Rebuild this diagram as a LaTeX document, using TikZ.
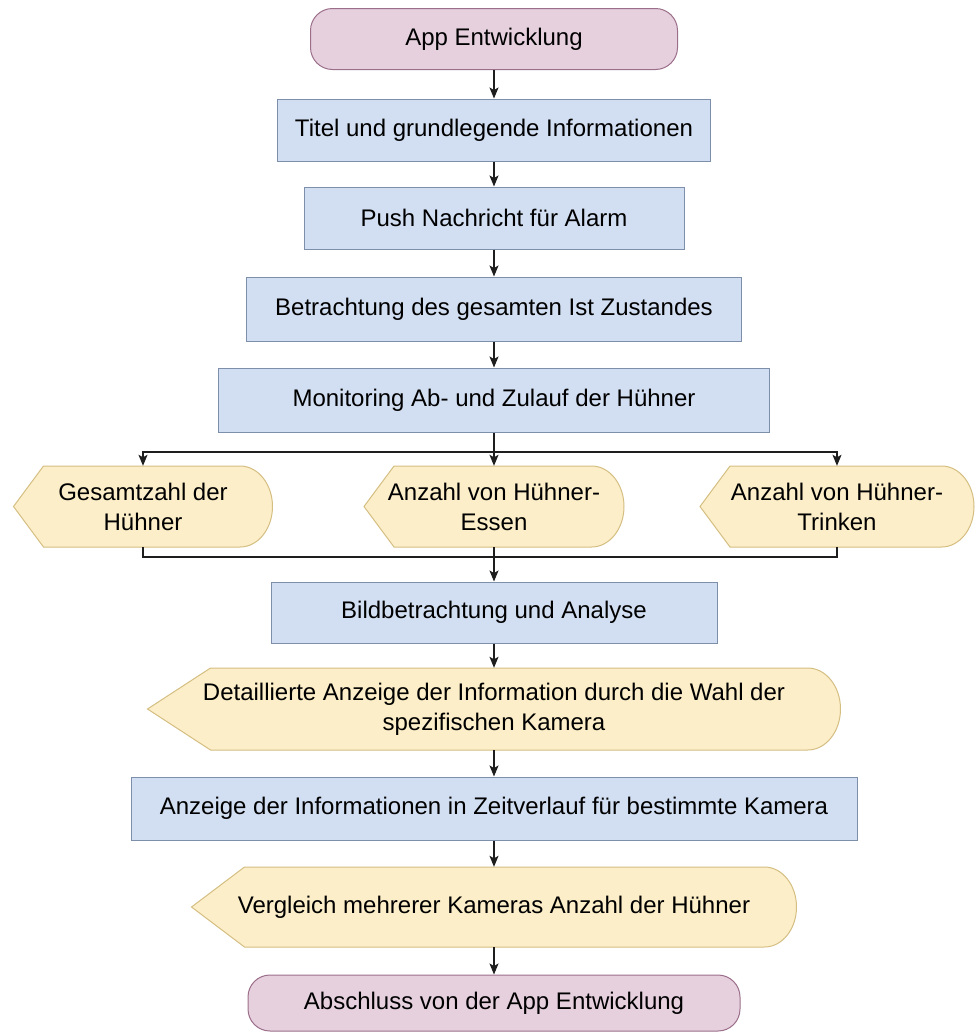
\documentclass[tikz,border=0pt]{standalone}
\usepackage{fontspec}
\setmainfont{Liberation Sans}
\usetikzlibrary{arrows.meta}

\definecolor{procfill}{RGB}{210,223,242}
\definecolor{procdraw}{RGB}{125,143,170}
\definecolor{dispfill}{RGB}{252,238,200}
\definecolor{dispdraw}{RGB}{212,190,130}
\definecolor{termfill}{RGB}{230,208,222}
\definecolor{termdraw}{RGB}{155,110,138}
\definecolor{linecol}{RGB}{30,30,30}

\tikzset{
  base/.style={font=\fontsize{24}{30}\selectfont, text=black, align=center, inner sep=0pt},
  proc/.style={base, rectangle, fill=procfill, draw=procdraw, line width=1pt},
  term/.style={base, rectangle, rounded corners=22pt, fill=termfill, draw=termdraw, line width=1pt},
  dispshape/.style={fill=dispfill, draw=dispdraw, line width=1pt},
  disptext/.style={base, rectangle},
  arr/.style={draw=linecol, line width=1.2pt, -{Stealth[length=11pt,width=9pt,inset=2.5pt]}},
  link/.style={draw=linecol, line width=1.2pt},
}

% display symbol: pointed left end, rounded right end
% #1 name, #2 centre x, #3 centre y (downwards), #4 width, #5 height, #6 slant, #7 text
\newcommand\displaynode[7]{%
  \draw[dispshape] ({#2-#4/2},{-#3}) -- ++(#6,{#5/2})
    -- ({#2+#4/2-#5*0.4},{-#3+#5/2})
    arc[start angle=90,end angle=-90,x radius={#5*0.4},y radius={#5/2}]
    -- ({#2-#4/2+#6},{-#3-#5/2}) -- cycle;
  \node[disptext, minimum width=#4pt, minimum height=#5pt] (#1) at (#2,-#3) {#7};
}

\begin{document}
\begin{tikzpicture}[x=1pt,y=1pt]
\useasboundingbox (0,0) rectangle (976,-1034);

\node[term, minimum width=367pt, minimum height=61pt] (t1) at (494,-39) {App Entwicklung};
\node[proc, minimum width=433pt, minimum height=62pt] (b1) at (494,-130) {Titel und grundlegende Informationen};
\node[proc, minimum width=380pt, minimum height=62pt] (b2) at (494,-218) {Push Nachricht für Alarm};
\node[proc, minimum width=495pt, minimum height=64pt] (b3) at (494,-309) {Betrachtung des gesamten Ist Zustandes};
\node[proc, minimum width=551pt, minimum height=64pt] (b4) at (494,-400) {Monitoring Ab- und Zulauf der Hühner};

\displaynode{d1}{143}{506.5}{259}{81}{30}{Gesamtzahl der\\Hühner}
\displaynode{d2}{494}{506.5}{260}{81}{30}{Anzahl von Hühner-\\Essen}
\displaynode{d3}{837}{506.5}{274}{81}{30}{Anzahl von Hühner-\\Trinken}

\node[proc, minimum width=446pt, minimum height=61pt] (b5) at (494,-612.5) {Bildbetrachtung und Analyse};

\displaynode{d4}{494}{709}{693}{82}{63}{Detaillierte Anzeige der Information durch die Wahl der\\spezifischen Kamera}

\node[proc, minimum width=726pt, minimum height=63pt] (b6) at (494,-808.5) {Anzeige der Informationen in Zeitverlauf für bestimmte Kamera};

\displaynode{d5}{494}{907}{605}{80}{53}{Vergleich mehrerer Kameras Anzahl der Hühner}

\node[term, minimum width=492pt, minimum height=56pt] (t2) at (494,-1003) {Abschluss von der App Entwicklung};

% branching and joining points
\coordinate (split) at (494,-452);
\coordinate (merge) at (494,-557);

\draw[arr] (t1.south) -- (b1.north);
\draw[arr] (b1.south) -- (b2.north);
\draw[arr] (b2.south) -- (b3.north);
\draw[arr] (b3.south) -- (b4.north);
\draw[arr] (b4.south) -- (d2.north);
\draw[arr] (split) -| (d1.north);
\draw[arr] (split) -| (d3.north);
\draw[link] (d1.south) |- (merge);
\draw[link] (d3.south) |- (merge);
\draw[arr] (d2.south) -- (b5.north);
\draw[arr] (b5.south) -- (d4.north);
\draw[arr] (d4.south) -- (b6.north);
\draw[arr] (b6.south) -- (d5.north);
\draw[arr] (d5.south) -- (t2.north);
\end{tikzpicture}
\end{document}
